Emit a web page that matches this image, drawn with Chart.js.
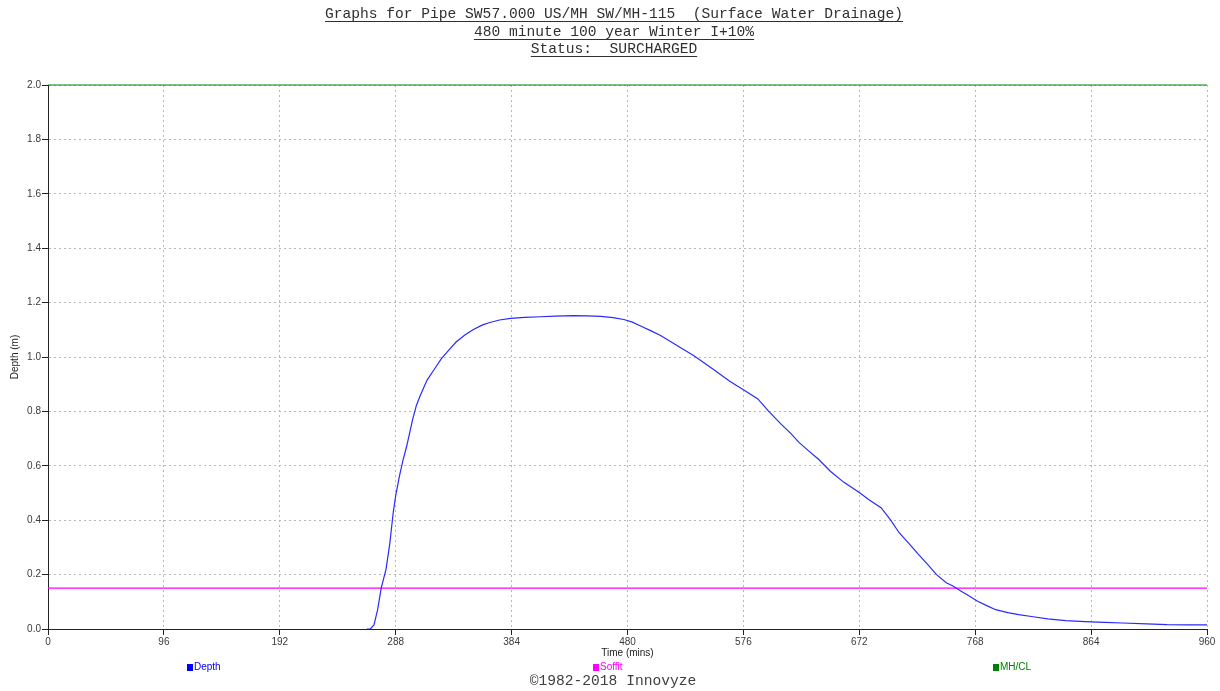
<!DOCTYPE html>
<html>
<head>
<meta charset="utf-8">
<script src="https://cdn.jsdelivr.net/npm/chart.js@4.4.1/dist/chart.umd.min.js"></script>
<style>
  html, body { margin: 0; padding: 0; background: #ffffff; }
  body { width: 1220px; height: 691px; position: relative; overflow: hidden; }
  #wrap { position: absolute; left: 0; top: 0; width: 1220px; height: 691px; }
  .ttl { position: absolute; left: 8px; width: 1212px; text-align: center;
         font-family: "Liberation Mono", "DejaVu Sans Mono", monospace; font-size: 14.6px;
         line-height: 17px; color: #303030; white-space: pre; }
  .ttl span { text-decoration: underline; text-underline-offset: 3px; }
  .leg { position: absolute; top: 661px; font-family: "Liberation Sans", Arial, sans-serif;
         font-size: 10px; line-height: 12px; white-space: pre; }
  .sq { display: inline-block; width: 6px; height: 7px; margin-right: 1px; vertical-align: -1px; }
  #foot { position: absolute; left: 6px; width: 1214px; top: 673px; text-align: center;
          font-family: "Liberation Mono", "DejaVu Sans Mono", monospace; font-size: 14.6px;
          line-height: 17px; color: #404040; white-space: pre; }
</style>
</head>
<body>
<div id="wrap"><canvas id="c" width="1220" height="691"></canvas></div>
<div class="ttl" style="top:6px"><span>Graphs for Pipe SW57.000 US/MH SW/MH-115  (Surface Water Drainage)</span></div>
<div class="ttl" style="top:24px"><span>480 minute 100 year Winter I+10%</span></div>
<div class="ttl" style="top:41px"><span>Status:  SURCHARGED</span></div>
<div class="leg" style="left:187px;color:#0000ff"><span class="sq" style="background:#0000ff"></span>Depth</div>
<div class="leg" style="left:593px;color:#ff00ff"><span class="sq" style="background:#ff00ff"></span>Soffit</div>
<div class="leg" style="left:993px;color:#008000"><span class="sq" style="background:#008000"></span>MH/CL</div>
<div id="foot">©1982-2018 Innovyze</div>
<script>
// ---- Data ----
const timeMins = [264, 267, 270, 273, 276, 280, 283, 286, 288, 291, 294, 297, 302, 305, 308, 314, 320, 326, 332, 338,
  345, 352, 360, 366, 374, 383, 395, 408, 420, 435, 447, 458, 468, 477, 484, 490, 500, 507, 520, 535,
  551, 565, 576, 588, 597, 607, 615, 622, 630, 638, 648, 659, 672, 680, 690, 698, 705, 713, 721, 728,
  736, 744, 750, 756, 761, 770, 778, 785, 795, 804, 816, 828, 843, 859, 875, 890, 910, 927, 945, 960];
const depthM = [0.0, 0.0, 0.015, 0.07, 0.15, 0.22, 0.31, 0.43, 0.49, 0.56, 0.62, 0.67, 0.77, 0.82, 0.855, 0.915, 0.955, 0.995, 1.025, 1.055,
  1.08, 1.10, 1.118, 1.127, 1.136, 1.142, 1.146, 1.148, 1.150, 1.152, 1.151, 1.149, 1.145, 1.138, 1.128, 1.116, 1.095, 1.08, 1.045, 1.005,
  0.955, 0.91, 0.88, 0.846, 0.80, 0.754, 0.72, 0.686, 0.655, 0.625, 0.58, 0.54, 0.502, 0.475, 0.446, 0.40, 0.354, 0.315, 0.274, 0.24,
  0.20, 0.17, 0.157, 0.14, 0.127, 0.102, 0.085, 0.071, 0.06, 0.053, 0.045, 0.037, 0.031, 0.027, 0.024, 0.022, 0.019, 0.016, 0.015, 0.015];
const soffitLevel = 0.15;
const mhclLevel = 2.0;
const timeRange = [0, 960];
const xStep = 96;
const depthRange = [0, 2.0];
const yStep = 0.2;

const depthPts = timeMins.map((t, i) => ({x: t, y: depthM[i]}));
const soffitPts = timeRange.map(t => ({x: t, y: soffitLevel}));
const mhclPts = timeRange.map(t => ({x: t, y: mhclLevel}));

const tickFont = {family: '"Liberation Sans", Arial, sans-serif', size: 10};

new Chart(document.getElementById('c'), {
  type: 'line',
  data: {
    datasets: [
      {label: 'Depth', data: depthPts, borderColor: '#2a2aff', borderWidth: 1.2, pointRadius: 0, tension: 0, fill: false},
      {label: 'Soffit', data: soffitPts, borderColor: '#ff00ff', borderWidth: 1.2, pointRadius: 0, fill: false},
      {label: 'MH/CL', data: mhclPts, borderColor: '#008000', borderWidth: 1.2, pointRadius: 0, fill: false, clip: 4}
    ]
  },
  options: {
    responsive: false,
    animation: false,
    layout: {padding: {left: 0, right: 13, top: 85, bottom: 32}},
    plugins: {legend: {display: false}, tooltip: {enabled: false}, title: {display: false}},
    scales: {
      x: {
        type: 'linear', min: timeRange[0], max: timeRange[1],
        afterFit: s => { s.height = 30; },
        ticks: {stepSize: xStep, font: tickFont, color: '#3a3a3a', padding: 1, maxRotation: 0, autoSkip: false},
        grid: {color: '#b8b8b8', tickColor: '#222222', tickLength: 6, drawTicks: true},
        border: {display: true, color: '#222222', width: 1, dash: [2, 3]},
        title: {display: true, text: 'Time (mins)', font: tickFont, color: '#222222', padding: {top: 0, bottom: 0}}
      },
      y: {
        type: 'linear', min: depthRange[0], max: depthRange[1],
        afterFit: s => { s.width = 48; },
        ticks: {stepSize: yStep, font: tickFont, color: '#3a3a3a', padding: 1, callback: v => v.toFixed(1)},
        grid: {color: '#b8b8b8', tickColor: '#222222', tickLength: 6, drawTicks: true},
        border: {display: true, color: '#222222', width: 1, dash: [2, 3]},
        title: {display: true, text: 'Depth (m)', font: tickFont, color: '#222222', padding: {top: 9, bottom: 0}}
      }
    }
  }
});
</script>
</body>
</html>
